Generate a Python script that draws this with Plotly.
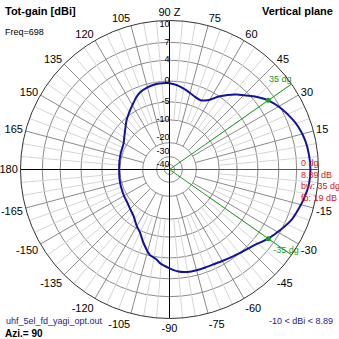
import numpy as np
import plotly.graph_objects as go

# Vertical-plane total gain (dBi) of the 5-element UHF yagi at 698 MHz
angle_deg = [180, 170, 161, 150, 147, 140, 131, 125, 121, 115, 111, 105, 100, 95, 90,
             85, 80, 75, 70, 66, 63, 60, 56, 52, 48, 45, 41, 35, 28, 22, 18, 12, 6, 0,
             -6, -12, -18, -22, -28, -35, -42, -45, -50, -55, -60, -65, -70, -75, -80,
             -85, -90, -96, -98, -103, -110, -115, -120, -128, -135, -142, -150, -161,
             -170, -180]
gain_dbi = [-9.8, -9.7, -9.5, -9.1, -8.7, -7.6, -5.6, -4.4, -3.6, -2.2, -1.4, -0.8, -0.5,
            -0.45, -0.5, -0.9, -1.5, -2.2, -2.8, -3.0, -2.6, -1.9, -0.1, 1.2, 2.4, 3.2,
            4.4, 5.89, 7.1, 7.8, 8.2, 8.6, 8.8, 8.89, 8.8, 8.45, 8.0, 7.7, 6.95, 5.89,
            4.7, 4.4, 4.0, 3.6, 3.3, 3.1, 3.05, 3.05, 3.0, 2.7, 2.0, 1.05, 0.5, -0.2,
            -2.7, -4.5, -5.6, -7.5, -8.3, -8.9, -9.2, -9.5, -9.7, -9.8]

# Gain rings of the log-style radial scale and their relative radius
ring_db = [-40, -30, -20, -10, -5, 0, 4, 7, 10]
ring_frac = [5 / 150, 13 / 150, 27 / 150, 50 / 150, 68 / 150, 89 / 150, 110 / 150, 128 / 150, 1.0]
ring_labels = ["-40", "-30", "-20", "-10", "-5", "0", "4", "7", "10"]
# crowded labels near the centre and at the rim are nudged off their ring
ring_label_pos = ["middle left", "top left", "top left", "middle left", "middle left",
                  "middle left", "middle left", "middle left", "bottom left"]

# Angular labels every 15 degrees, shown signed (-165 .. 180)
ang_ticks = list(range(0, 360, 15))
ang_text = {0: "", 90: "90 Z"}

max_gain = 8.89
beam_edges = [35, -35]
info_lines = ["0 dg", "8.89 dB", "bw: 35 dg", "fb: 19 dB"]


def to_r(db):
    return np.interp(db, ring_db, ring_frac)


def signed(a):
    return a - 360 if a > 180 else a


fig = go.Figure()

# light 5-degree spokes
th_l, r_l = [], []
for a in range(0, 360, 5):
    if a % 15:
        th_l += [a, a, None]
        r_l += [float(to_r(-10)), 1.0, None]
fig.add_trace(go.Scatterpolar(theta=th_l, r=r_l, mode="lines", connectgaps=False,
                              line=dict(color="#d4d4d4", width=1), hoverinfo="skip"))

# darker 15-degree spokes
th_d, r_d = [], []
for a in range(0, 360, 15):
    if a % 90:
        th_d += [a, a, None]
        r_d += [float(to_r(-20)), 1.0, None]
fig.add_trace(go.Scatterpolar(theta=th_d, r=r_d, mode="lines", connectgaps=False,
                              line=dict(color="#8a8a8a", width=1), hoverinfo="skip"))

# main axes
fig.add_trace(go.Scatterpolar(theta=[180, 0, 90, 0, 270], r=[1, 0, 1, 0, 1], mode="lines",
                              line=dict(color="black", width=1), hoverinfo="skip"))
fig.add_trace(go.Scatterpolar(theta=[0, 0], r=[0, 1], mode="lines",
                              line=dict(color="#d02020", width=1), hoverinfo="skip"))

# -3 dB beam edges
for a in beam_edges:
    fig.add_trace(go.Scatterpolar(theta=[a, a], r=[0, 1], mode="lines",
                                  line=dict(color="#1a9a1a", width=1), hoverinfo="skip"))

# pattern
fig.add_trace(go.Scatterpolar(theta=angle_deg, r=to_r(gain_dbi), mode="lines",
                              line=dict(color="#1212a0", width=2, shape="spline", smoothing=0.6),
                              hoverinfo="skip"))

# -3 dB points on the pattern
fig.add_trace(go.Scatterpolar(theta=beam_edges, r=to_r([max_gain - 3] * 2), mode="markers",
                              marker=dict(color="#1a9a1a", size=5), hoverinfo="skip"))

# beam edge labels
fig.add_trace(go.Scatterpolar(theta=[35], r=[1.0], mode="text", text=["35 dg"],
                              textposition="top left",
                              textfont=dict(family="Liberation Sans", size=9, color="#1a9a1a"),
                              hoverinfo="skip"))
fig.add_trace(go.Scatterpolar(theta=[-35], r=[0.955], mode="text", text=["-35 dg"],
                              textposition="middle center",
                              textfont=dict(family="Liberation Sans", size=9, color="#1a9a1a"),
                              hoverinfo="skip"))

# radial gain labels along the vertical axis
fig.add_trace(go.Scatterpolar(theta=[90] * len(ring_db), r=to_r(ring_db), mode="text",
                              text=ring_labels, textposition=ring_label_pos,
                              textfont=dict(family="Liberation Sans", size=9, color="black"),
                              hoverinfo="skip"))

half = 149 / 339
fig.update_layout(
    width=339, height=339,
    margin=dict(l=0, r=0, t=0, b=0),
    paper_bgcolor="white",
    showlegend=False,
    polar=dict(
        domain=dict(x=[0.5 - half, 0.5 + half], y=[0.5 - half, 0.5 + half]),
        bgcolor="white",
        radialaxis=dict(range=[0, 1], tickvals=list(to_r(ring_db)), showticklabels=False,
                        ticks="", showline=False, gridcolor="#8a8a8a", gridwidth=1),
        angularaxis=dict(direction="counterclockwise", rotation=0,
                         tickmode="array", tickvals=ang_ticks,
                         ticktext=[ang_text.get(a, str(signed(a))) for a in ang_ticks],
                         showgrid=False, ticks="", showline=True,
                         linecolor="#333333", linewidth=1,
                         tickfont=dict(family="Liberation Sans", size=11, color="black")),
    ),
)

W = 339.0
fig.add_annotation(x=3 / W, y=1 - 3 / W, xref="paper", yref="paper", xanchor="left", yanchor="top",
                   text="<b>Tot-gain [dBi]</b>", showarrow=False,
                   font=dict(family="Liberation Sans", size=11, color="black"))
fig.add_annotation(x=1 - 4 / W, y=1 - 3 / W, xref="paper", yref="paper", xanchor="right", yanchor="top",
                   text="<b>Vertical plane</b>", showarrow=False,
                   font=dict(family="Liberation Sans", size=11, color="black"))
fig.add_annotation(x=3 / W, y=1 - 25 / W, xref="paper", yref="paper", xanchor="left", yanchor="top",
                   text="Freq=698", showarrow=False,
                   font=dict(family="Liberation Sans", size=9, color="black"))
fig.add_annotation(x=4 / W, y=18 / W, xref="paper", yref="paper", xanchor="left", yanchor="middle",
                   text="uhf_5el_fd_yagi_opt.out", showarrow=False,
                   font=dict(family="Liberation Sans", size=9, color="#1a1a90"))
fig.add_annotation(x=3 / W, y=6 / W, xref="paper", yref="paper", xanchor="left", yanchor="middle",
                   text="<b>Azi.= 90</b>", showarrow=False,
                   font=dict(family="Liberation Sans", size=10, color="black"))
fig.add_annotation(x=1 - 4 / W, y=18 / W, xref="paper", yref="paper", xanchor="right", yanchor="middle",
                   text="-10 < dBi < 8.89", showarrow=False,
                   font=dict(family="Liberation Sans", size=9, color="#1a1a90"))
fig.add_annotation(x=299 / W, y=1 - 156 / W, xref="paper", yref="paper", xanchor="left", yanchor="top",
                   text="<br>".join(info_lines), showarrow=False, align="left",
                   font=dict(family="Liberation Sans", size=9, color="#d02020"))

fig.write_html("out.html")
